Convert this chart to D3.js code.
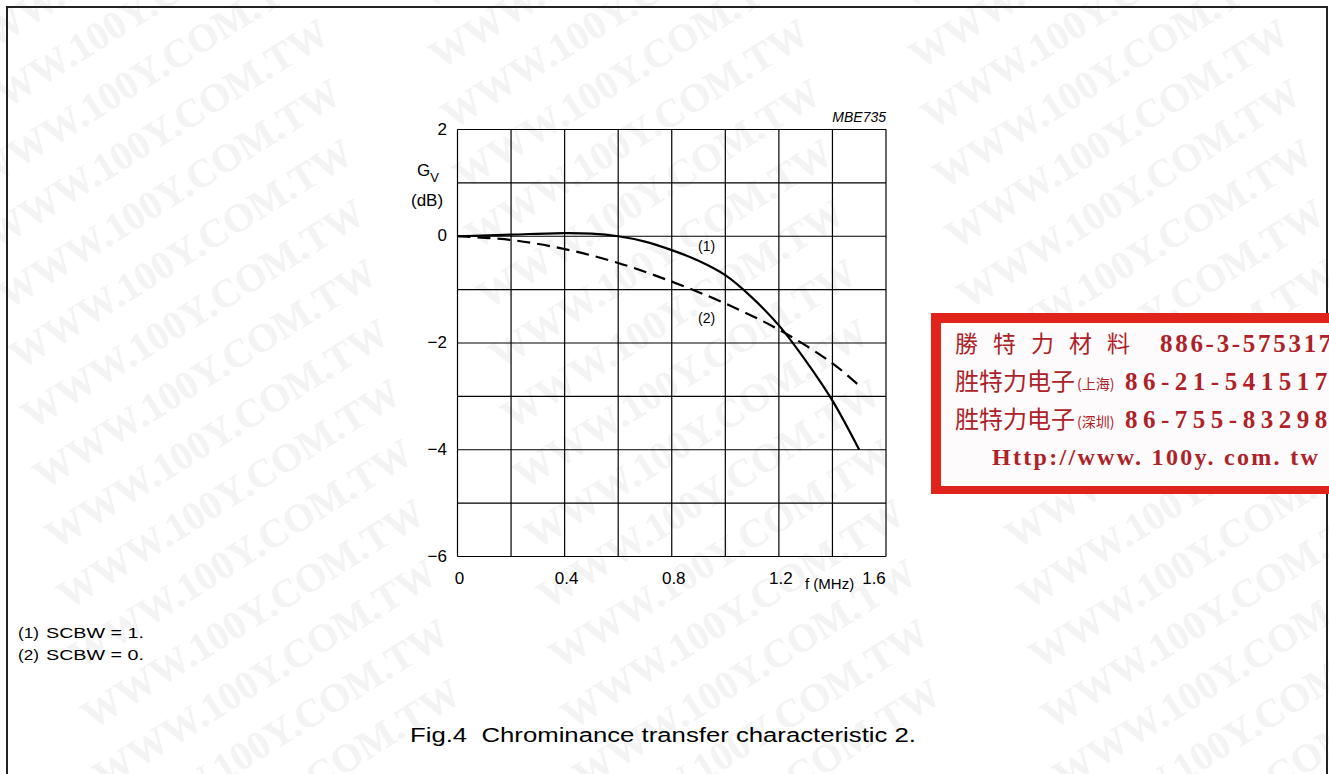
<!DOCTYPE html>
<html>
<head>
<meta charset="utf-8">
<script src="https://cdn.jsdelivr.net/npm/d3@7/dist/d3.min.js"></script>
<style>
  html, body { margin: 0; padding: 0; background: #fff; }
  svg { display: block; }
</style>
</head>
<body>
<svg id="chart" width="1329" height="774"></svg>
<script>
// curve (1): SCBW = 1
var freq1 = [0, 0.2, 0.4, 0.5, 0.6, 0.7, 0.8, 0.9, 1.0, 1.1, 1.2, 1.3, 1.4, 1.5];
var gain1 = [0, 0.03, 0.06, 0.05, 0.0, -0.1, -0.26, -0.46, -0.73, -1.15, -1.67, -2.33, -3.08, -4.0];
// curve (2): SCBW = 0
var freq2 = [0, 0.2, 0.4, 0.6, 0.8, 1.0, 1.2, 1.4, 1.5];
var gain2 = [0, -0.07, -0.24, -0.5, -0.85, -1.26, -1.75, -2.38, -2.8];

var xTicks = [0, 0.4, 0.8, 1.2, 1.6];
var yTicks = [2, 0, -2, -4, -6];
var xGrid = [0, 0.2, 0.4, 0.6, 0.8, 1.0, 1.2, 1.4, 1.6];
var yGrid = [2, 1, 0, -1, -2, -3, -4, -5, -6];
var notes = [["(1)", "SCBW = 1."], ["(2)", "SCBW = 0."]];
var stampNames = ["勝特力材料", "胜特力电子", "胜特力电子"];
var stampCity = ["", "(上海)", "(深圳)"];
var stampPhones = ["886-3-5753170", "86-21-54151736", "86-755-83298787"];

var svg = d3.select("#chart");
var sans = "'Liberation Sans', Arial, sans-serif";

// watermark
var wm = svg.append("g")
    .attr("fill", "#f3f3f3")
    .attr("font-family", "'Liberation Serif', 'Times New Roman', serif")
    .attr("font-weight", "bold")
    .attr("font-size", 40);
for (var c = -1; c < 4; c++) {
  for (var r = -3; r < 15; r++) {
    wm.append("text")
        .attr("transform", "translate(" + (c * 480 - 40 + r * 12) + "," + (r * 60 + 70) + ") rotate(-32)")
        .text("WWW.100Y.COM.TW");
  }
}

// page frame
svg.append("rect")
    .attr("x", 7).attr("y", 7)
    .attr("width", 1320).attr("height", 800)
    .attr("fill", "none")
    .attr("stroke", "#222")
    .attr("stroke-width", 2);

var x = d3.scaleLinear().domain([0, 1.6]).range([457.5, 886]);
var y = d3.scaleLinear().domain([-6, 2]).range([556.5, 129.5]);

var g = svg.append("g");

// grid
g.append("g").selectAll("line")
    .data(xGrid)
    .enter().append("line")
    .attr("x1", function (d) { return x(d); })
    .attr("x2", function (d) { return x(d); })
    .attr("y1", y(2)).attr("y2", y(-6))
    .attr("stroke", "#000").attr("stroke-width", 1.2);
g.append("g").selectAll("line")
    .data(yGrid)
    .enter().append("line")
    .attr("y1", function (d) { return y(d); })
    .attr("y2", function (d) { return y(d); })
    .attr("x1", x(0)).attr("x2", x(1.6))
    .attr("stroke", "#000").attr("stroke-width", 1.2);

// axes labels
g.append("g")
    .attr("font-family", sans).attr("font-size", 17).attr("text-anchor", "end")
    .selectAll("text")
    .data(yTicks)
    .enter().append("text")
    .attr("x", 447)
    .attr("y", function (d) { return y(d); })
    .attr("dy", "0.3em")
    .text(function (d) { return d < 0 ? "\u2212" + (-d) : d; });
g.append("g")
    .attr("font-family", sans).attr("font-size", 17).attr("text-anchor", "middle")
    .selectAll("text")
    .data(xTicks)
    .enter().append("text")
    .attr("x", function (d) { return x(d) + (d === 1.6 ? -12 : 2); })
    .attr("y", 584)
    .text(function (d) { return d; });

var gv = g.append("text")
    .attr("font-family", sans).attr("font-size", 17)
    .attr("x", 417).attr("y", 176);
gv.append("tspan").text("G");
gv.append("tspan").attr("font-size", 13).attr("dy", 6).text("V");
g.append("text")
    .attr("font-family", sans).attr("font-size", 17)
    .attr("x", 411).attr("y", 206)
    .text("(dB)");
g.append("text")
    .attr("font-family", sans).attr("font-size", 15)
    .attr("x", 805).attr("y", 589)
    .text("f (MHz)");
g.append("text")
    .attr("font-family", sans).attr("font-size", 14).attr("font-style", "italic")
    .attr("text-anchor", "end")
    .attr("x", 886).attr("y", 122)
    .text("MBE735");

// curves
var line = d3.line()
    .x(function (d) { return x(d[0]); })
    .y(function (d) { return y(d[1]); })
    .curve(d3.curveCatmullRom);

g.append("path")
    .datum(d3.zip(freq1, gain1))
    .attr("d", line)
    .attr("fill", "none").attr("stroke", "#000").attr("stroke-width", 2.2);
g.append("path")
    .datum(d3.zip(freq2, gain2))
    .attr("d", line)
    .attr("fill", "none").attr("stroke", "#000").attr("stroke-width", 2.2)
    .attr("stroke-dasharray", "13,7");

g.append("text")
    .attr("font-family", sans).attr("font-size", 14)
    .attr("x", 698).attr("y", 251).text("(1)");
g.append("text")
    .attr("font-family", sans).attr("font-size", 14)
    .attr("x", 698).attr("y", 323).text("(2)");

// notes
notes.forEach(function (n, i) {
  svg.append("text").attr("font-family", sans).attr("font-size", 15)
      .attr("x", 18).attr("y", 638 + i * 22)
      .attr("textLength", 21).attr("lengthAdjust", "spacingAndGlyphs")
      .text(n[0]);
  svg.append("text").attr("font-family", sans).attr("font-size", 15)
      .attr("x", 46).attr("y", 638 + i * 22)
      .attr("textLength", 98).attr("lengthAdjust", "spacingAndGlyphs")
      .text(n[1]);
});

// caption
svg.append("text")
    .attr("font-family", sans).attr("font-size", 20)
    .attr("x", 410).attr("y", 742)
    .attr("xml:space", "preserve")
    .attr("textLength", 506).attr("lengthAdjust", "spacingAndGlyphs")
    .text("Fig.4  Chrominance transfer characteristic 2.");

// stamp
var st = svg.append("g");
st.append("rect").attr("x", 931).attr("y", 313).attr("width", 420).attr("height", 181).attr("fill", "#e0241b");
st.append("rect").attr("x", 941).attr("y", 323).attr("width", 420).attr("height", 163).attr("fill", "#fdfbfb");
var red = "#ad2228";
var cjk = "'Noto Sans CJK TC', 'Noto Sans CJK SC', sans-serif";
var serif = "'Liberation Serif', 'DejaVu Serif', serif";
stampNames.forEach(function (s, i) {
  var by = 352 + i * 38;
  st.append("text").attr("font-family", cjk).attr("fill", red)
      .attr("font-size", i === 0 ? 23 : 24)
      .attr("letter-spacing", i === 0 ? 15 : 0)
      .attr("x", 955).attr("y", by).text(s);
  if (stampCity[i]) {
    st.append("text").attr("font-family", cjk).attr("font-size", 14).attr("fill", red)
        .attr("x", 1077).attr("y", by - 1).text(stampCity[i]);
  }
  st.append("text").attr("font-family", serif).attr("font-weight", "bold").attr("font-size", 25)
      .attr("fill", red).attr("letter-spacing", i === 0 ? 2.7 : 5.5)
      .attr("x", i === 0 ? 1160 : 1125).attr("y", by).text(stampPhones[i]);
});
st.append("text").attr("font-family", serif).attr("font-weight", "bold").attr("font-size", 24)
    .attr("fill", red).attr("xml:space", "preserve").attr("letter-spacing", 2.3)
    .attr("x", 992).attr("y", 465).text("Http://www. 100y. com. tw");
</script>
</body>
</html>
